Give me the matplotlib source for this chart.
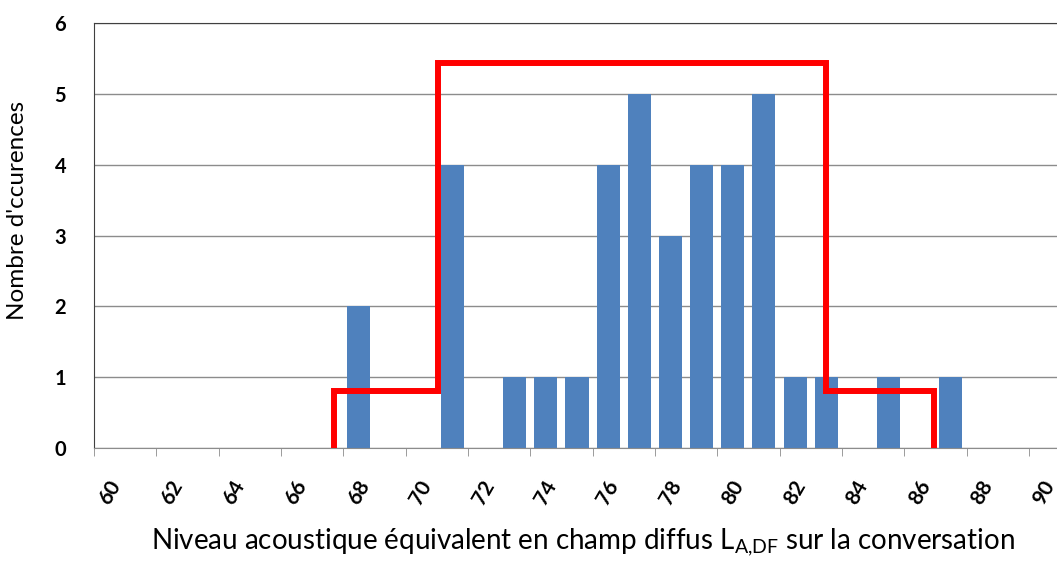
import numpy as np
import matplotlib.pyplot as plt

plt.rcParams['font.family'] = ['Lato', 'DejaVu Sans']

# niveaux (dB) et nombre d'occurrences
niveaux = np.arange(60, 91)
occurrences = np.zeros(len(niveaux))
barres = {68: 2, 71: 4, 73: 1, 74: 1, 75: 1, 76: 4, 77: 5, 78: 3,
          79: 4, 80: 4, 81: 5, 82: 1, 83: 1, 85: 1, 87: 1}
for k, v in barres.items():
    occurrences[niveaux == k] = v

# courbe en escalier (rouge)
escalier_x = [67.2, 67.2, 70.55, 70.55, 82.98, 82.98, 86.45, 86.45]
escalier_y = [0, 0.81, 0.81, 5.44, 5.44, 0.81, 0.81, 0]

fig = plt.figure(figsize=(10.57, 5.63), dpi=100)
ax = fig.add_axes([94 / 1057, 115 / 563, 966 / 1057, 425 / 563])

ax.bar(niveaux, occurrences, width=0.74, color='#4F81BD', zorder=2)
ax.plot(escalier_x, escalier_y, color='#FF0000', lw=4.3, zorder=3,
        solid_joinstyle='miter')

ax.set_xlim(59.5, 90.5)
ax.set_ylim(0, 6)
ax.set_yticks(range(7))
ax.yaxis.grid(True, color='#8C8C8C', lw=1, zorder=0)
ax.tick_params(axis='y', length=0, pad=20, labelsize=14.5)
for t in ax.get_yticklabels():
    t.set_fontweight('bold')

ax.set_xticks(np.arange(60, 91, 2))
ax.set_xticks(np.arange(59.5, 90, 2), minor=True)
ax.set_xticklabels([str(v) for v in range(60, 91, 2)], rotation=60,
                   fontweight='bold', fontsize=15)
ax.tick_params(axis='x', which='major', length=0, pad=21)
ax.tick_params(axis='x', which='minor', length=6, color='#8C8C8C')

ax.spines['right'].set_visible(False)
ax.spines['top'].set_color('#404040')
ax.spines['left'].set_color('#404040')
ax.spines['bottom'].set_color('#8C8C8C')

ax.set_xlabel(r'Niveau acoustique équivalent en champ diffus L$_{\mathregular{A{,}DF}}$ sur la conversation',
              fontsize=20)
ax.xaxis.set_label_coords(0.506, -0.185)
ax.set_ylabel("Nombre d'ccurences", fontsize=17.5)
ax.yaxis.set_label_coords(-0.068, 0.56)

fig.savefig('out.png', dpi=100)
